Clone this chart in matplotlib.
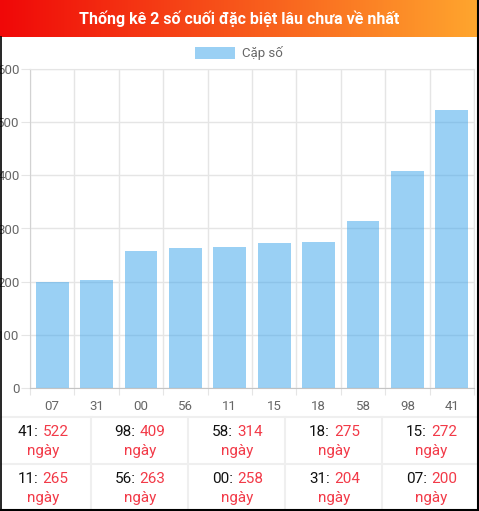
import matplotlib
matplotlib.use('Agg')
import matplotlib.pyplot as plt
import numpy as np
from matplotlib.patches import Rectangle
from matplotlib.lines import Line2D

categories = ['07', '31', '00', '56', '11', '15', '18', '58', '98', '41']
values = [200, 204, 258, 263, 265, 272, 275, 314, 409, 522]
series_label = 'Cặp số'
title = 'Thống kê 2 số cuối đặc biệt lâu chưa về nhất'
y_ticks = [0, 100, 200, 300, 400, 500, 600]
table_nums = ['41', '98', '58', '18', '15', '11', '56', '00', '31', '07']
table_days = [522, 409, 314, 275, 272, 265, 263, 258, 204, 200]
unit = 'ngày'

plt.rcParams['font.family'] = ['Roboto', 'DejaVu Sans']

W, H = 479, 511
fig = plt.figure(figsize=(W / 100, H / 100), dpi=100)
fig.patch.set_facecolor('white')


def fx(x):
    return x / W


def fy(y):
    return 1 - y / H


# ---- banner with gradient ----
bh = 37
bax = fig.add_axes([0, fy(bh), 1, bh / H])
g = np.linspace(0, 1, 256)
c1 = np.array([240, 8, 8]) / 255
c2 = np.array([255, 166, 46]) / 255
img = c1[None, :] * (1 - g[:, None]) + c2[None, :] * g[:, None]
bax.imshow(img[None, :, :], aspect='auto', extent=[0, 1, 0, 1])
bax.set_xlim(0, 1)
bax.set_ylim(0, 1)
bax.axis('off')
bax.text(0.5, 0.5, title, color='white', fontweight='bold', fontsize=11.5,
         ha='center', va='center', transform=bax.transAxes)

# ---- bar chart ----
bar_color = (54 / 255, 162 / 255, 235 / 255, 0.5)
grid_color = '#e5e5e5'
ax = fig.add_axes([fx(30), fy(388), fx(474) - fx(30), fy(69) - fy(388)])
x = np.arange(len(categories))
ax.bar(x, values, width=0.74, color=bar_color, linewidth=0, zorder=2)
ax.set_xlim(-0.5, len(categories) - 0.5)
ax.set_ylim(0, 600)
ax.set_yticks(y_ticks)
ax.set_yticklabels([str(v) for v in y_ticks])
ax.set_xticks(x)
ax.set_xticklabels(categories)
ax.set_xticks(np.arange(-0.5, len(categories)), minor=True)
ax.grid(True, axis='y', color=grid_color, linewidth=1, zorder=0)
ax.grid(True, axis='x', which='minor', color=grid_color, linewidth=1, zorder=0)
ax.grid(False, axis='x', which='major')
ax.tick_params(axis='y', length=6.5, width=0.8, color=grid_color, pad=1,
               labelsize=9.5, labelcolor='#666666')
ax.tick_params(axis='x', which='major', length=0, pad=8.5, labelsize=9.5,
               labelcolor='#666666')
ax.tick_params(axis='x', which='minor', length=5, width=0.8, color=grid_color)
for s in ['top', 'right']:
    ax.spines[s].set_color(grid_color)
    ax.spines[s].set_linewidth(0.8)
ax.spines['left'].set_color('#d2d2d2')
ax.spines['left'].set_linewidth(0.8)
ax.spines['bottom'].set_color('#c4c4c4')
ax.spines['bottom'].set_linewidth(0.8)
ax.set_axisbelow(True)

# ---- legend ----
fig.patches.append(Rectangle((fx(195), fy(59)), fx(40), 12 / H,
                             transform=fig.transFigure, facecolor=bar_color,
                             edgecolor='none'))
fig.text(fx(242), fy(53), series_label, fontsize=9.5, color='#666666',
         ha='left', va='center')

# ---- table ----
line_color = '#efefef'
for yy in [417, 464]:
    fig.lines.append(Line2D([0, 1], [fy(yy), fy(yy)], transform=fig.transFigure,
                            color=line_color, linewidth=1.5))
for xx in [91, 188, 285, 382]:
    fig.lines.append(Line2D([fx(xx), fx(xx)], [fy(417), fy(511)],
                            transform=fig.transFigure, color=line_color,
                            linewidth=1.5))

red = '#f23a48'
centers = [43, 140, 237.5, 334.5, 431.5]
rows_y = [(432, 451), (479, 498)]
fig.canvas.draw()
renderer = fig.canvas.get_renderer()
gap = 4.0
for i, (num, days) in enumerate(zip(table_nums, table_days)):
    r, c = divmod(i, 5)
    cx = centers[c]
    y1, y2 = rows_y[r]
    t1 = fig.text(0, fy(y1), f'{num}:', fontsize=11, color='#111111',
                  ha='left', va='center')
    t2 = fig.text(0, fy(y1), str(days), fontsize=11, color=red,
                  ha='left', va='center')
    w1 = t1.get_window_extent(renderer).width
    w2 = t2.get_window_extent(renderer).width
    left = cx - (w1 + gap + w2) / 2
    t1.set_x(fx(left))
    t2.set_x(fx(left + w1 + gap))
    fig.text(fx(cx), fy(y2), unit, fontsize=11, color=red, ha='center',
             va='center')

# ---- black frame ----
fig.lines.append(Line2D([fx(0.7), fx(0.7)], [fy(bh), fy(511)],
                        transform=fig.transFigure, color='black', linewidth=1.2))
fig.lines.append(Line2D([fx(478), fx(478)], [0, 1],
                        transform=fig.transFigure, color='black', linewidth=1.5))
fig.lines.append(Line2D([0, 1], [fy(510), fy(510)],
                        transform=fig.transFigure, color='black', linewidth=1.5))

fig.savefig('out.png', dpi=100, facecolor='white')
